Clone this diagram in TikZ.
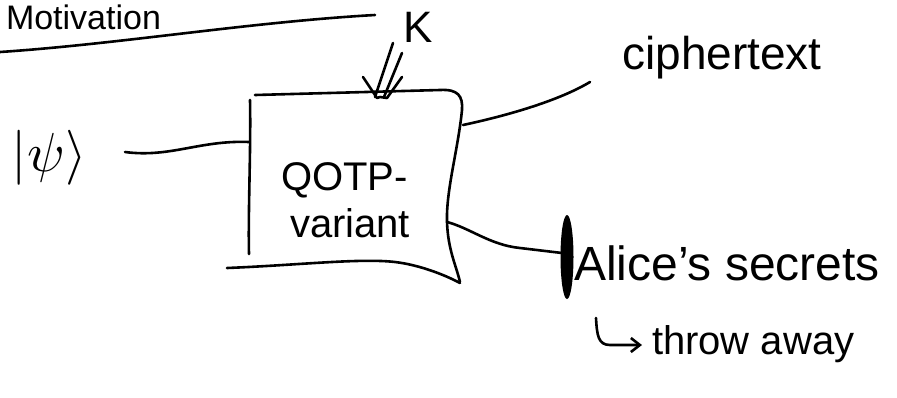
\documentclass[tikz,border=0pt]{standalone}
\usepackage{fontspec}
\setmainfont{Liberation Sans}
\usepackage{graphicx}
\usetikzlibrary{arrows.meta}
\begin{document}
\begin{tikzpicture}[x=1pt,y=-1pt,
  ink/.style={line width=2.6pt, line cap=round, line join=round},
  hand/.style={inner sep=0pt, outer sep=0pt},
  big/.style={hand, font=\fontsize{40}{44}\selectfont}]
\useasboundingbox (0,0) rectangle (897,397);
% title
\node[hand, font=\fontsize{34}{38}\selectfont, anchor=base west] (title) at (6,29) {Motivation};
\draw[ink] (0,52) .. controls (120,44) and (250,22) .. (375,15);
% box outline
\coordinate (boxW) at (249,142);
\coordinate (boxN) at (380,97);
\coordinate (boxE1) at (463,125);
\coordinate (boxE2) at (447,222);
\draw[ink] (255,95) -- (440,90) .. controls (458,89) and (463,96) .. (462,110)
  .. controls (458,150) and (446,190) .. (447,222)
  .. controls (448,250) and (456,265) .. (460,282);
\draw[ink] (250,100) .. controls (251,150) and (248,210) .. (249,254);
\draw[ink] (227,268) .. controls (300,265) and (360,258) .. (395,262)
  .. controls (420,265) and (445,275) .. (460,283);
\node[big, anchor=base west] (qotp) at (281,190) {QOTP-};
\node[big, anchor=base west] (variant) at (290,237) {variant};
% key input
\node[hand, font=\fontsize{44}{48}\selectfont, anchor=base west] (K) at (403,42) {K};
\coordinate (kA) at (393,43);
\coordinate (kB) at (402,53);
\draw[ink] (kA) -- (375,97);
\draw[ink] (kB) -- (384,97);
\draw[ink] (363,77) -- (377,98) -- (boxN) -- (387,98) -- (402,77);
% input state
\node[hand, anchor=west] (psi) at (12,158) {\scalebox{5.5}{$|\psi\rangle$}};
\coordinate (inA) at (125,152);
\draw[ink] (inA) .. controls (170,158) and (200,140) .. (boxW);
% ciphertext
\node[hand, font=\fontsize{46}{50}\selectfont] (cipher) at (722,58) {ciphertext};
\coordinate (cA) at (590,82);
\draw[ink] (boxE1) .. controls (510,115) and (560,100) .. (cA);
% Alice's secrets
\fill (567,257) ellipse [x radius=6.5, y radius=42];
\coordinate (sA) at (562,253);
\draw[ink] (boxE2) .. controls (470,228) and (490,245) .. (520,248) -- (sA);
\node[hand, font=\fontsize{48}{52}\selectfont, anchor=base west] (alice) at (574,280) {Alice's secrets};
% throw away
\coordinate (tA) at (596,318);
\coordinate (tB) at (642,345);
\draw[ink, -{Straight Barb[length=9pt, width=14pt]}] (tA) .. controls (597,335) and (598,345) .. (610,345) -- (tB);
\node[hand, font=\fontsize{40}{44}\selectfont, anchor=base west] (throw) at (652,354) {throw away};
\end{tikzpicture}
\end{document}
